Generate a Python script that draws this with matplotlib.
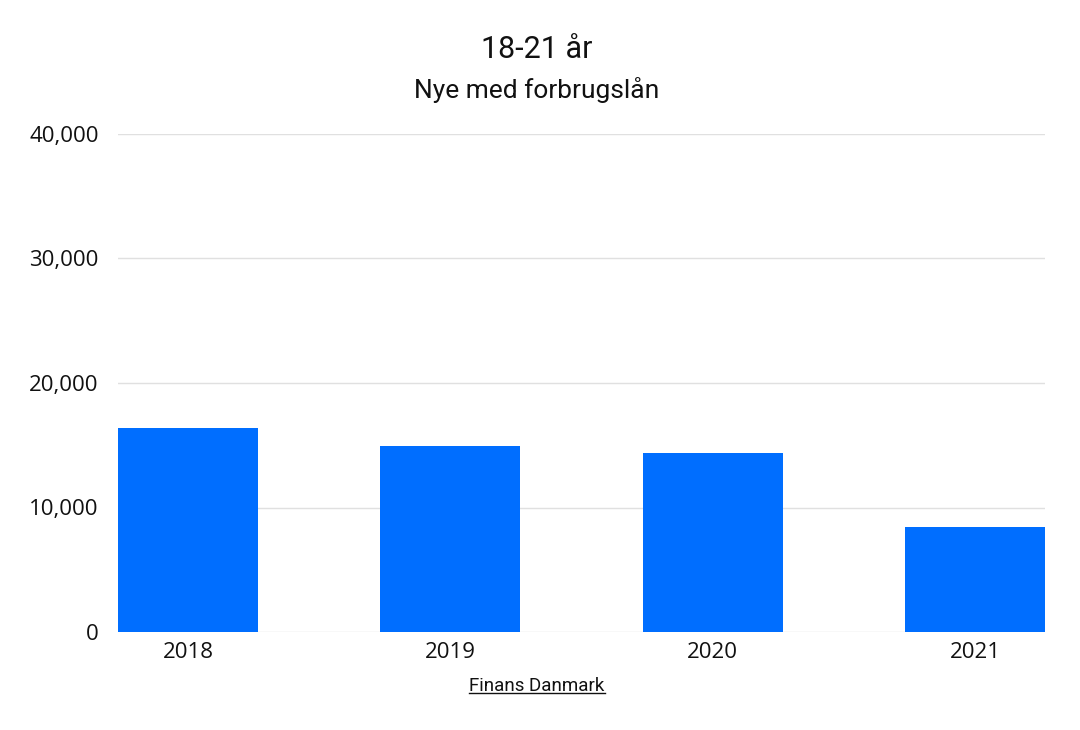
import matplotlib.pyplot as plt
from matplotlib.ticker import FuncFormatter

years = ["2018", "2019", "2020", "2021"]
values = [16400, 14950, 14400, 8450]
yticks = [0, 10000, 20000, 30000, 40000]

bar_color = "#006EFF"

fig = plt.figure(figsize=(10.8, 7.3), dpi=100)
ax = fig.add_axes([118 / 1080, 1 - 632 / 730, (1045 - 118) / 1080, (632 - 134) / 730])

x = range(len(years))
ax.bar(x, values, width=0.534, color=bar_color, zorder=3)

ax.set_xlim(-0.267, 3.267)
ax.set_ylim(0, 40000)
ax.set_yticks(yticks)
ax.yaxis.set_major_formatter(FuncFormatter(lambda v, p: f"{int(v):,}"))
ax.set_xticks(list(x))
ax.set_xticklabels(years)

ax.grid(axis="y", color="#e0e0e0", linewidth=1, zorder=0)
for s in ax.spines.values():
    s.set_visible(False)
ax.tick_params(length=0, labelsize=16, colors="#111111")
ax.tick_params(axis="y", pad=14)
ax.tick_params(axis="x", pad=7)
for lab in ax.get_xticklabels() + ax.get_yticklabels():
    lab.set_family("Open Sans")

fig.text(537 / 1080, 1 - 50 / 730, "18-21 år", ha="center", va="center",
         fontsize=22, family="Roboto", color="#111111")
fig.text(537 / 1080, 1 - 90 / 730, "Nye med forbrugslån", ha="center", va="center",
         fontsize=19, family="Roboto", color="#111111")
src = fig.text(537 / 1080, 1 - 686 / 730, "Finans Danmark", ha="center", va="center",
               fontsize=13.5, family="Roboto", color="#111111")

# underline under the source text
fig.canvas.draw()
bb = src.get_window_extent()
y_line = (bb.y0 + 2) / fig.bbox.height
fig.add_artist(plt.Line2D([bb.x0 / fig.bbox.width, bb.x1 / fig.bbox.width], [y_line, y_line],
                          color="#111111", linewidth=1, transform=fig.transFigure))

fig.savefig("out.png", dpi=100)
